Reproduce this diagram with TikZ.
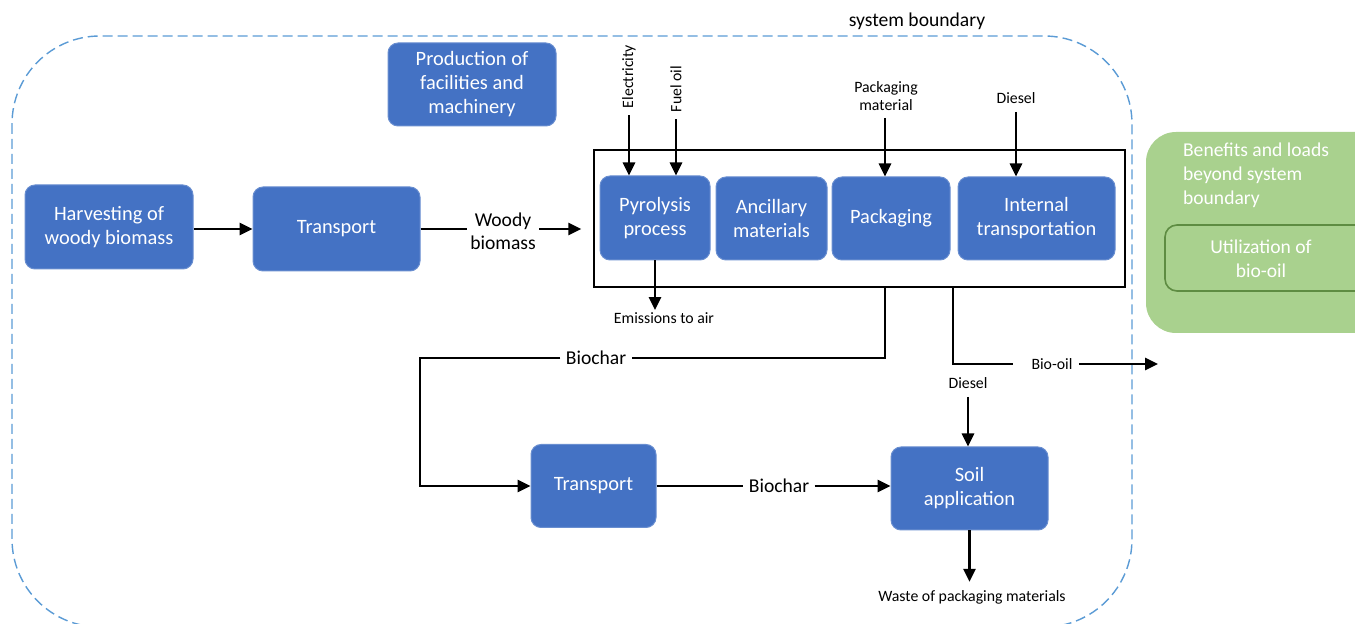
\documentclass[tikz,border=0pt]{standalone}
\usepackage{fontspec}
\setmainfont{Carlito}
\usetikzlibrary{arrows.meta}
\definecolor{boxblue}{HTML}{4472C4}
\definecolor{bnd}{HTML}{5B9BD5}
\definecolor{lgreen}{HTML}{A9D18E}
\definecolor{dgreen}{HTML}{5E8C42}
\begin{document}
\begin{tikzpicture}[x=0.5pt,y=-0.5pt,
 box/.style={rectangle, rounded corners=5pt, fill=boxblue, draw=boxblue!80!white, line width=0.5pt, text=white, align=center, font=\fontsize{10.2}{12}\selectfont, inner sep=1pt},
 lbl/.style={font=\fontsize{9.8}{11.5}\selectfont, align=center, inner sep=2.5pt},
 small/.style={font=\fontsize{7.9}{9}\selectfont, align=center, inner sep=1pt},
 flow/.style={line width=1.4pt, -{Triangle[length=6.5pt,width=6pt]}},
 plain/.style={line width=1.4pt},
 gtext/.style={text=white, font=\fontsize{9.8}{12}\selectfont},
]
\useasboundingbox (0,0) rectangle (1355,624);
\clip (0,0) rectangle (1355,624);

% system boundary
\draw[bnd, dash pattern=on 5pt off 2.5pt, line width=0.7pt, rounded corners=44pt] (12,36) rectangle (1132,627);
\node[lbl] (sb) at (917,21) {system boundary};

% green region beyond boundary
\node[rectangle, rounded corners=15pt, fill=lgreen, minimum width=127pt, minimum height=100.5pt, inner sep=0pt] (ben) at (1273,232.5) {};
\node[gtext, anchor=west, align=left] (bentxt) at (1176,175) {Benefits and loads\\beyond system\\boundary};
\node[rectangle, rounded corners=6pt, draw=dgreen, line width=0.8pt, minimum width=110pt, minimum height=33pt, inner sep=0pt] (util) at (1275,258) {};
\node[gtext, align=center] (utiltxt) at (1261,259) {Utilization of\\bio-oil};

% blue boxes
\node[box, minimum width=84pt, minimum height=41.5pt] (prod) at (472,84.5) {Production of\\facilities and\\machinery};
\node[box, minimum width=84pt, minimum height=42pt] (harv) at (109,227) {Harvesting of\\woody biomass};
\node[box, minimum width=83.5pt, minimum height=42pt] (trans1) at (336.5,229) {Transport};
\node[draw, line width=0.75pt, minimum width=265.5pt, minimum height=68.5pt, inner sep=0pt] (big) at (859.5,218.5) {};
\node[box, minimum width=55pt, minimum height=42pt] (pyro) at (655,218) {Pyrolysis\\process};
\node[box, minimum width=55.5pt, minimum height=41.5pt] (anc) at (771.5,218.5) {Ancillary\\materials};
\node[box, minimum width=59pt, minimum height=41.5pt] (pack) at (891,218.5) {Packaging};
\node[box, minimum width=78.5pt, minimum height=41.5pt] (inter) at (1036.5,218.5) {Internal\\transportation};
\node[box, minimum width=62.5pt, minimum height=41.5pt] (trans2) at (593.5,486) {Transport};
\node[box, minimum width=78.5pt, minimum height=41.5pt] (soil) at (969.5,488.5) {Soil\\application};

% labels
\node[lbl, inner sep=1.5pt] (wb) at (503,231) {Woody\\biomass};
\node[small, rotate=90] (elec) at (629,76.5) {Electricity};
\node[small, rotate=90] (fuel) at (676,89) {Fuel oil};
\node[small] (pm) at (886,96) {Packaging\\material};
\node[small] (dsl) at (1016,98) {Diesel};
\node[small] (emis) at (664,318) {Emissions to air};
\node[lbl] (bc1) at (596,358) {Biochar};
\node[small] (bo) at (1052,364) {Bio-oil};
\node[small] (d2) at (968,383) {Diesel};
\node[lbl, inner sep=2.5pt] (bc2) at (779,486) {Biochar};
\node[small] (waste) at (972,597) {Waste of packaging materials};

\coordinate (pk) at (885,287);
\coordinate (io) at (953,287);
\coordinate (bl) at (420,358);
\coordinate (boend) at (1158,364);

% connectors
\draw[flow] (harv.east |- trans1) -- (trans1.west);
\draw[plain] (trans1.east) -- (wb.west |- trans1);
\draw[flow, shorten >=6pt] (wb.east |- trans1) -- (big.west |- trans1);
\draw[flow, shorten <=2.5pt] (elec.west) -- (elec.west |- pyro.north);
\draw[flow, shorten <=2.5pt] (fuel.west) -- (fuel.west |- pyro.north);
\draw[flow, shorten <=2.5pt] (pm.south -| pk) -- (pk |- pack.north);
\draw[flow, shorten <=3pt] (dsl.south) -- (dsl.south |- inter.north);
\draw[flow] (pyro.south) -- (pyro.south |- emis.north);
\draw[plain] (pk) |- (bc1.east);
\draw[flow] (bc1.west) -- (bl) |- (trans2.west);
\draw[plain, shorten >=8pt] (io) |- (bo.west);
\draw[flow, shorten <=2pt] (bo.east) -- (boend);
\draw[flow, shorten <=3pt] (d2.south) -- (d2.south |- soil.north);
\draw[plain] (trans2.east) -- (bc2.west |- trans2);
\draw[flow] (bc2.east |- trans2) -- (trans2 -| soil.west);
\draw[flow, shorten >=3pt] (soil.south) -- (soil.south |- waste.north);
\end{tikzpicture}
\end{document}
